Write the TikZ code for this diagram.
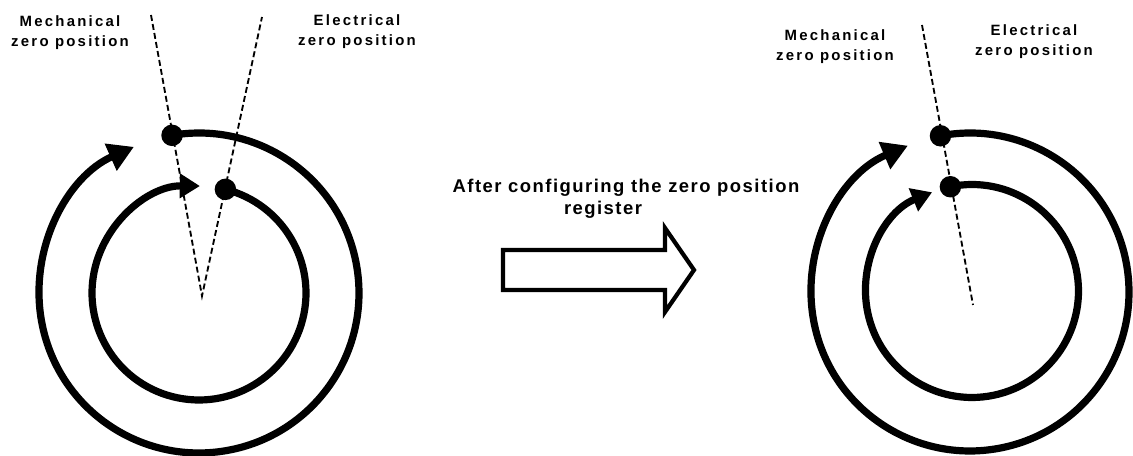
\documentclass[tikz,border=0pt]{standalone}
\usepackage{fontspec}
\setmainfont{Liberation Sans}
\newfontfamily\lblfont{Liberation Sans}[LetterSpace=15]
\newfontfamily\midfont{Liberation Sans}[LetterSpace=8]
\usetikzlibrary{arrows.meta,calc}
\begin{document}
\begin{tikzpicture}[x=0.02cm,y=0.02cm,
  ring/.style={line width=4.1pt},
  bigtip/.style={-{Triangle[length=14.5pt,width=16pt]}},
  smalltip/.style={-{Triangle[length=11.5pt,width=13.5pt]}},
  zdot/.style={circle,fill=black,inner sep=0pt,minimum size=0.43cm},
  zline/.style={line width=1.05pt,dash pattern=on 3.4pt off 1.8pt},
  lbl/.style={font=\lblfont\bfseries\fontsize{8.5}{11.3}\selectfont,align=center,inner sep=0pt},
  midlbl/.style={font=\midfont\bfseries\fontsize{10.5}{13}\selectfont,align=center,inner sep=0pt},
  blockarrow/.style={line width=2.4pt,miter limit=10}]
\useasboundingbox (0,0) rectangle (1133,456);

% ---------- geometry ----------
\coordinate (LC) at (199,163);
\coordinate (LmT) at (151,441);
\coordinate (LeT) at (262,439);
\coordinate (LV) at (202,160);
\path (LC) ++(99.7:3.2cm) coordinate (LdOp);
\path (LC) ++(75.7:2.14cm) coordinate (LdIp);
\coordinate (RCo) at (970,164);
\coordinate (RCi) at (972,165);
\coordinate (RmT) at (922,431);
\coordinate (RmB) at (973,151);
\path (RCo) ++(100.7:3.18cm) coordinate (RdOp);
\path (RCi) ++(101.7:2.13cm) coordinate (RdIp);

% ---------- left figure ----------
\draw[zline] (LmT) -- (LV) -- (LeT);
\draw[ring,bigtip] (LdOp) arc[start angle=99.7,end angle=-246,radius=3.2cm];
\draw[ring,smalltip] (LdIp) arc[start angle=75.7,end angle=-270.5,radius=2.14cm];
\node[zdot] (LdO) at (LdOp) {};
\node[zdot] (LdI) at (LdIp) {};

% ---------- right figure ----------
\draw[zline] (RmT) -- (RmB);
\draw[ring,bigtip] (RdOp) arc[start angle=100.7,end angle=-247,radius=3.18cm];
\draw[ring,smalltip] (RdIp) arc[start angle=101.7,end angle=-248,radius=2.13cm];
\node[zdot] (RdO) at (RdOp) {};
\node[zdot] (RdI) at (RdIp) {};

% ---------- labels ----------
\node[lbl] (LMech) at (70,423) {Mechanical\\zero position};
\node[lbl] (LElec) at (357,424) {Electrical\\zero position};
\node[lbl] (RMech) at (835,409.5) {Mechanical\\zero position};
\node[lbl] (RElec) at (1034,414.5) {Electrical\\zero position};
\node[midlbl] (Mid) at (626,257.3) {After configuring the zero position\\register\hspace*{0.92cm}};

% ---------- block arrow ----------
\draw[blockarrow,fill=white] (503,206) -- (665,206) -- (665,228) -- (694,186) -- (665,144) -- (665,166) -- (503,166) -- cycle;
\end{tikzpicture}
\end{document}
